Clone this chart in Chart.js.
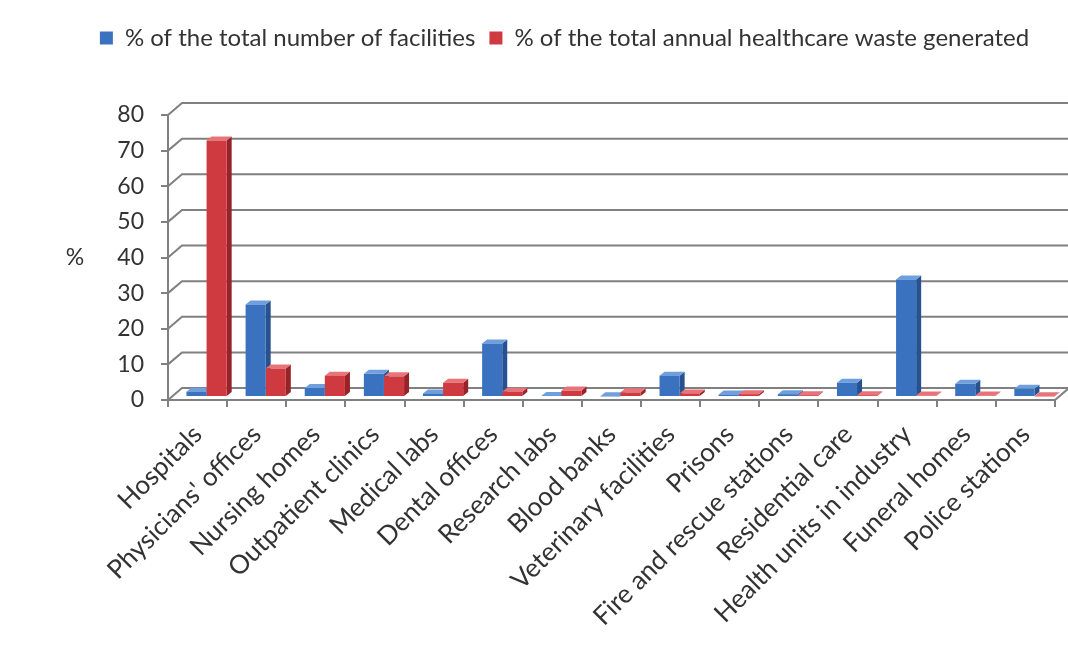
<!DOCTYPE html>
<html>
<head>
<meta charset="utf-8">
<script src="https://cdn.jsdelivr.net/npm/chart.js@4/dist/chart.umd.min.js"></script>
<style>
  html, body { margin: 0; padding: 0; background: #fff; }
  #wrap { width: 1068px; height: 669px; }
</style>
</head>
<body>
<div id="wrap"><canvas id="myChart" width="1068" height="669"></canvas></div>
<script>
const categories = [
  "Hospitals", "Physicians' offices", "Nursing homes", "Outpatient clinics",
  "Medical labs", "Dental offices", "Research labs", "Blood banks",
  "Veterinary facilities", "Prisons", "Fire and rescue stations",
  "Residential care", "Health units in industry", "Funeral homes", "Police stations"
];
const facilitiesPct = [1.5, 26, 2.5, 6.5, 1, 15, 0.3, 0.2, 6, 0.7, 0.8, 4, 33, 3.7, 2.3];
const wastePct = [72, 8, 6, 5.8, 4, 1.5, 1.8, 1.3, 1, 0.8, 0.5, 0.5, 0.4, 0.4, 0.2];
const yTicks = [0, 10, 20, 30, 40, 50, 60, 70, 80];

const FONT = "Lato";
const GRID = "#808080";
const WALL_DX = 14, WALL_DY = 12; // back wall offset
const BAR_DX = 5, BAR_DY = 4;     // bar depth
const BAR_SHIFT_X = 9, BAR_SHIFT_Y = -3; // bars sit a little into the floor

// back wall gridlines + bar depth faces
const wallPlugin = {
  id: "wall",
  beforeDatasetsDraw(chart) {
    const ctx = chart.ctx, y = chart.scales.y, area = chart.chartArea;
    ctx.save();
    ctx.strokeStyle = GRID;
    ctx.lineWidth = 2;
    yTicks.forEach((v) => {
      const py = y.getPixelForValue(v);
      ctx.beginPath();
      ctx.moveTo(area.left, py);
      ctx.lineTo(area.left + WALL_DX, py - WALL_DY);
      ctx.lineTo(chart.width, py - WALL_DY);
      ctx.stroke();
    });
    // right floor corner
    ctx.beginPath();
    ctx.moveTo(area.right, area.bottom);
    ctx.lineTo(area.right + WALL_DX, area.bottom - WALL_DY);
    ctx.stroke();
    ctx.restore();

    // bars are drawn shifted into the 3D floor; restored in afterDatasetsDraw
    ctx.save();
    ctx.translate(BAR_SHIFT_X, BAR_SHIFT_Y);
    const tops = ["#6f9fdc", "#e8747a"];
    const sides = ["#28528f", "#96232a"];
    chart.data.datasets.forEach((ds, di) => {
      chart.getDatasetMeta(di).data.forEach((bar) => {
        const l = bar.x - bar.width / 2, r = bar.x + bar.width / 2;
        ctx.fillStyle = sides[di];
        ctx.beginPath();
        ctx.moveTo(r, bar.y);
        ctx.lineTo(r + BAR_DX, bar.y - BAR_DY);
        ctx.lineTo(r + BAR_DX, bar.base - BAR_DY);
        ctx.lineTo(r, bar.base);
        ctx.closePath();
        ctx.fill();
        ctx.fillStyle = tops[di];
        ctx.beginPath();
        ctx.moveTo(l, bar.y);
        ctx.lineTo(l + BAR_DX, bar.y - BAR_DY);
        ctx.lineTo(r + BAR_DX, bar.y - BAR_DY);
        ctx.lineTo(r, bar.y);
        ctx.closePath();
        ctx.fill();
      });
    });
  },
  afterDatasetsDraw(chart) {
    chart.ctx.restore();
  },
  afterDraw(chart) {
    const ctx = chart.ctx, y = chart.scales.y;
    ctx.save();
    ctx.font = "23px " + FONT;
    ctx.fillStyle = "#333";
    ctx.textAlign = "center";
    ctx.textBaseline = "middle";
    ctx.fillText("%", 75, y.getPixelForValue(40));
    ctx.restore();
  }
};

// make the legend box tall so the plot starts where the reference does
const legendHeight = {
  id: "legendHeight",
  beforeLayout(chart) {
    const lg = chart.legend;
    if (lg && !lg._patched) {
      const fit = lg.fit;
      lg.fit = function () {
        fit.call(this);
        this.height = 103;
      };
      lg._patched = true;
    }
  }
};

const ctx = document.getElementById("myChart").getContext("2d");
const myChart = new Chart(ctx, {
  type: "bar",
  data: {
    labels: categories,
    datasets: [
      {
        label: "% of the total number of facilities",
        data: facilitiesPct,
        backgroundColor: "#3b72bf",
        borderWidth: 0,
      },
      {
        label: "% of the total annual healthcare waste generated",
        data: wastePct,
        backgroundColor: "#cf3a41",
        borderWidth: 0,
      },
    ],
  },
  options: {
    responsive: false,
    animation: false,
    layout: { padding: { left: 74, right: 13, top: 12, bottom: 0 } },
    datasets: { bar: { categoryPercentage: 0.68, barPercentage: 1 } },
    plugins: {
      legend: {
        position: "top",
        labels: {
          font: { family: FONT, size: 24 },
          color: "#333",
          boxWidth: 13,
          boxHeight: 13,
          padding: 14,
        },
      },
      tooltip: { enabled: false },
    },
    scales: {
      x: {
        grid: { offset: true, drawOnChartArea: false, color: GRID, lineWidth: 2, tickLength: 7 },
        border: { color: GRID, width: 2 },
        ticks: {
          autoSkip: false,
          minRotation: 45,
          maxRotation: 45,
          font: { family: FONT, size: 26 },
          color: "#333",
          padding: 12,
        },
        afterFit: (scale) => { scale.height = 269; },
      },
      y: {
        min: 0,
        max: 80,
        ticks: { stepSize: 10, font: { family: FONT, size: 23 }, color: "#333", padding: 17 },
        grid: { drawOnChartArea: false, color: GRID, lineWidth: 2, tickLength: 7 },
        border: { color: GRID, width: 2 },
        afterFit: (scale) => { scale.width = 94; },
      },
    },
  },
  plugins: [wallPlugin, legendHeight],
});
</script>
</body>
</html>
